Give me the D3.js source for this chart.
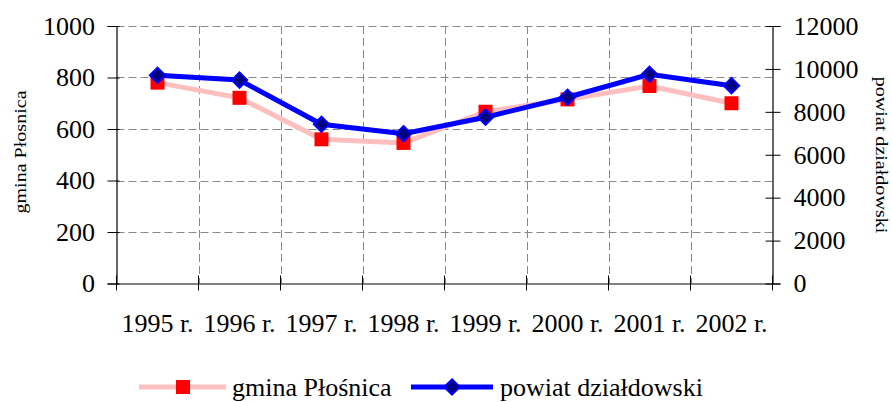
<!DOCTYPE html>
<html>
<head>
<meta charset="utf-8">
<script src="https://cdn.jsdelivr.net/npm/d3@7"></script>
<style>
  body { margin: 0; background: #fff; }
  text { font-family: "Liberation Serif", "Times New Roman", serif; fill: #000; }
</style>
</head>
<body>
<svg id="chart" width="892" height="402"></svg>
<script>
// data
const years = ["1995 r.", "1996 r.", "1997 r.", "1998 r.", "1999 r.", "2000 r.", "2001 r.", "2002 r."];
const gmina = [780, 721, 560, 546, 667, 715, 767, 700];
const powiat = [9700, 9480, 7420, 6980, 7750, 8680, 9750, 9220];
const leftTicks = [0, 200, 400, 600, 800, 1000];
const rightTicks = [0, 2000, 4000, 6000, 8000, 10000, 12000];

const svg = d3.select("#chart");
const pLeft = 116.5, pRight = 772.5, pTop = 26, pBottom = 283.5;

let x = d3.scaleBand().domain(years).range([pLeft, pRight]).padding(0);
let yL = d3.scaleLinear().domain([0, 1000]).range([pBottom, pTop]);
let yR = d3.scaleLinear().domain([0, 12000]).range([pBottom, pTop]);

// grid
let grid = svg.append("g").attr("stroke", "#888").attr("stroke-dasharray", "8,4").attr("stroke-width", 1);
grid.selectAll("line.h").data(leftTicks.filter(d => d > 0)).enter().append("line")
    .attr("x1", pLeft).attr("x2", pRight)
    .attr("y1", d => Math.round(yL(d)) + 0.5).attr("y2", d => Math.round(yL(d)) + 0.5);
grid.selectAll("line.v").data(years.slice(1)).enter().append("line")
    .attr("x1", d => Math.round(x(d)) + 0.5).attr("x2", d => Math.round(x(d)) + 0.5)
    .attr("y1", pTop).attr("y2", pBottom);

// axes
let axL = svg.append("g").attr("transform", "translate(" + pLeft + ",0)")
    .call(d3.axisLeft(yL).tickValues(leftTicks).tickFormat(d3.format("d")).tickSize(9).tickPadding(12.5));
axL.selectAll(".tick line").attr("x2", -9).attr("x1", 3);

let axR = svg.append("g").attr("transform", "translate(" + pRight + ",0)")
    .call(d3.axisRight(yR).tickValues(rightTicks).tickFormat(d3.format("d")).tickSize(8).tickPadding(13));
axR.selectAll(".tick line").attr("x1", -7).attr("x2", 8);

let axX = svg.append("g").attr("transform", "translate(0," + pBottom + ")")
    .call(d3.axisBottom(x).tickSize(0).tickPadding(30));
axX.selectAll(".tick line").remove();
axX.selectAll("line.bt").data(d3.range(years.length + 1)).enter().append("line")
    .attr("x1", i => pLeft + i * x.bandwidth()).attr("x2", i => pLeft + i * x.bandwidth())
    .attr("y1", -8).attr("y2", 7).attr("stroke", "#000");

svg.selectAll(".domain").attr("stroke", "#000").attr("stroke-width", 1.2);
svg.selectAll(".tick line").attr("stroke", "#000");
svg.selectAll(".tick text").attr("font-size", 26);

// axis titles, the reference draws them a bit wider than Times
let titles = [];
titles.push(svg.append("text")
    .attr("transform", "translate(26,152) rotate(-90)")
    .attr("text-anchor", "middle").attr("font-size", 17).text("gmina Płosnica"));
titles.push(svg.append("text")
    .attr("transform", "translate(876,155) rotate(90)")
    .attr("text-anchor", "middle").attr("font-size", 17).text("powiat działdowski"));
titles.forEach(t => {
    let w = t.node().getComputedTextLength();
    t.attr("textLength", w * 1.18).attr("lengthAdjust", "spacingAndGlyphs");
});

// series lines
let cx = d => x(d) + x.bandwidth() / 2;
let lineL = d3.line().x((d, i) => cx(years[i])).y(d => yL(d));
let lineR = d3.line().x((d, i) => cx(years[i])).y(d => yR(d));

svg.append("path").datum(gmina).attr("d", lineL)
    .attr("fill", "none").attr("stroke", "#ffbfbf").attr("stroke-width", 5);
svg.selectAll("rect.g").data(gmina).enter().append("rect")
    .attr("x", (d, i) => cx(years[i]) - 7).attr("y", d => yL(d) - 7)
    .attr("width", 14).attr("height", 14).attr("fill", "#ff0000");

let diamond = d3.symbol().type(d3.symbolDiamond2).size(150);
svg.append("path").datum(powiat).attr("d", lineR)
    .attr("fill", "none").attr("stroke", "#0000ff").attr("stroke-width", 5);
svg.selectAll("path.p").data(powiat).enter().append("path")
    .attr("d", diamond)
    .attr("transform", (d, i) => "translate(" + cx(years[i]) + "," + yR(d) + ")")
    .attr("fill", "#000080").attr("stroke", "#0000ff").attr("stroke-width", 2);

// legend
let lg = svg.append("g");
lg.append("line").attr("x1", 139).attr("x2", 226).attr("y1", 387).attr("y2", 387)
    .attr("stroke", "#ffbfbf").attr("stroke-width", 5);
lg.append("rect").attr("x", 176).attr("y", 380).attr("width", 14).attr("height", 14).attr("fill", "#ff0000");
lg.append("text").attr("x", 232).attr("y", 396).attr("font-size", 26).text("gmina Płośnica");
lg.append("line").attr("x1", 411).attr("x2", 493).attr("y1", 387).attr("y2", 387)
    .attr("stroke", "#0000ff").attr("stroke-width", 5);
lg.append("path").attr("d", diamond).attr("transform", "translate(452,387)")
    .attr("fill", "#000080").attr("stroke", "#0000ff").attr("stroke-width", 2);
lg.append("text").attr("x", 500).attr("y", 396).attr("font-size", 26).text("powiat działdowski");
</script>
</body>
</html>
